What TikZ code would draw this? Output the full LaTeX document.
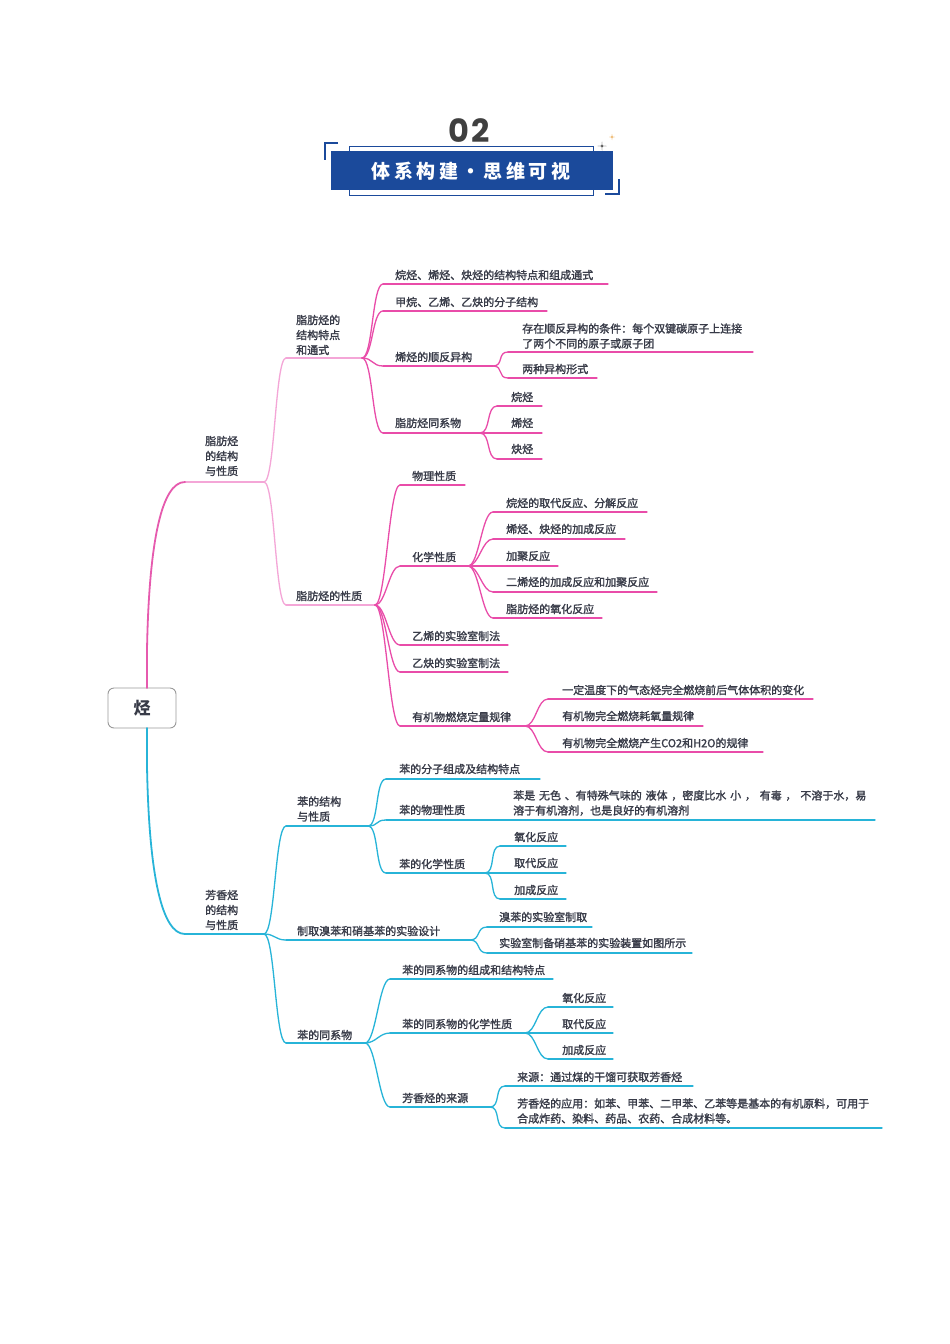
\documentclass[tikz,border=0pt]{standalone}
\usepackage{fontspec}
\newfontfamily\cjk{Noto Sans CJK SC}[FakeBold=1.6]
\newfontfamily\cjkR{Noto Sans CJK SC}
\newfontfamily\cjkH{Noto Sans CJK SC}[LetterSpace=18]
\newfontfamily\popp{Poppins}
\setmainfont{Liberation Sans}
\usetikzlibrary{calc}
\definecolor{pkA}{HTML}{E65AAE}
\definecolor{pkB}{HTML}{F4A6D7}
\definecolor{pkC}{HTML}{E94CA9}
\definecolor{cyA}{HTML}{27B4D8}
\definecolor{txt}{HTML}{383B48}
\definecolor{navy}{HTML}{1B4A9B}
\definecolor{gold}{HTML}{E8A040}
\tikzset{
  lbl/.style={font=\cjk\fontsize{11}{15}\selectfont, text=txt, inner sep=0pt, anchor=west, align=left},
  ln/.style={line width=1.3pt, line cap=round},
  pA/.style={ln, pkA, line width=1.8pt},
  pB/.style={ln, pkB},
  pC/.style={ln, pkC},
  cA/.style={ln, cyA, line width=1.8pt},
  cB/.style={ln, cyA},
  rootbox/.style={draw=black!40, line width=0.9pt, rounded corners=6pt, minimum width=68pt, minimum height=40pt, fill=white, inner sep=0pt, font=\cjkR\bfseries\fontsize{17}{17}\selectfont, text=txt},
}
% \mm{name}{style}{textx}{texty}{x1}{liney}{x2}{text}
\newcommand\mm[8]{%
  \coordinate (#1-s) at (#5,#6);
  \coordinate (#1-e) at (#7,#6);
  \draw[#2] (#1-s) -- (#1-e);
  \node[lbl] (#1) at (#3,#4) {#8};
}
\newcommand\lk[3]{\draw[#1] (#2) .. controls +(11,0) and +(-11,0) .. (#3);}
\newcommand\spark[4]{\fill[#4] (#1,#2-#3) .. controls (#1,#2) .. (#1+#3,#2) .. controls (#1,#2) .. (#1,#2+#3) .. controls (#1,#2) .. (#1-#3,#2) .. controls (#1,#2) .. cycle;}
\begin{document}
\begin{tikzpicture}[x=1pt,y=-1pt]
\useasboundingbox (0,0) rectangle (950,1344);
\fill[white] (0,0) rectangle (950,1344);
% ---------------- header
\node[font=\popp\bfseries\fontsize{32}{32}\selectfont, text=black!75, inner sep=0pt] (num) at (469,131) {0\kern2pt 2};
\draw[navy, line width=1pt] (349,146) rectangle (593,195);
\fill[navy] (331,151) rectangle (613,190);
\node[font=\cjkH\bfseries\fontsize{19}{19}\selectfont, text=white, inner sep=0pt] (title) at (471,171) {体系构建·思维可视};
\draw[navy, line width=1.2pt] (338,143) -- (325,143) -- (325,160);
\draw[navy, line width=1.2pt] (605,194) -- (619,194) -- (619,179);
\spark{602}{146}{4.5}{black!80}
\spark{612}{137}{3}{gold}
% ---------------- root
\node[rootbox] (root) at (142,708) {烃};
\coordinate (rootT) at (147,688);
\coordinate (rootB) at (147,728);
% ---------------- pink level 1
\mm{P0}{pB}{205}{456}{185}{482}{264}{脂肪烃\\的结构\\与性质}
\draw[pA] (rootT) -- (147,650) .. controls (149,540) and (162,482) .. (P0-s);
% level 2
\mm{P1}{pB}{296}{335}{286}{358}{362}{脂肪烃的\\结构特点\\和通式}
\mm{P2}{pB}{296}{596}{286}{605}{375}{脂肪烃的性质}
\lk{pB}{P0-e}{P1-s}
\lk{pB}{P0-e}{P2-s}
% level 3 under P1
\mm{a1}{pC}{395}{275}{383}{284}{608}{烷烃、烯烃、炔烃的结构特点和组成通式}
\mm{a2}{pC}{395}{302}{383}{311}{547}{甲烷、乙烯、乙炔的分子结构}
\mm{a3}{pC}{395}{357}{383}{366}{493}{烯烃的顺反异构}
\mm{a4}{pC}{395}{423}{383}{433}{480}{脂肪烃同系物}
\foreach \c in {a1,a2,a3,a4} {\lk{pC}{P1-e}{\c-s}}
\mm{a31}{pC}{522}{336}{508}{352}{753}{存在顺反异构的条件：每个双键碳原子上连接\\了两个不同的原子或原子团}
\mm{a32}{pC}{522}{369}{508}{378}{597}{两种异构形式}
\lk{pC}{a3-e}{a31-s}
\lk{pC}{a3-e}{a32-s}
\mm{a41}{pC}{511}{397}{497}{406}{542}{烷烃}
\mm{a42}{pC}{511}{423}{497}{433}{542}{烯烃}
\mm{a43}{pC}{511}{449}{497}{459}{542}{炔烃}
\foreach \c in {a41,a42,a43} {\lk{pC}{a4-e}{\c-s}}
% level 3 under P2
\mm{b1}{pC}{412}{476}{400}{485}{465}{物理性质}
\mm{b2}{pC}{412}{557}{400}{566}{468}{化学性质}
\mm{b3}{pC}{412}{636}{400}{645}{508}{乙烯的实验室制法}
\mm{b4}{pC}{412}{663}{400}{672}{508}{乙炔的实验室制法}
\mm{b5}{pC}{412}{717}{400}{726}{525}{有机物燃烧定量规律}
\foreach \c in {b1,b2,b3,b4,b5} {\lk{pC}{P2-e}{\c-s}}
\mm{b21}{pC}{506}{503}{493}{512}{647}{烷烃的取代反应、分解反应}
\mm{b22}{pC}{506}{529}{493}{539}{625}{烯烃、炔烃的加成反应}
\mm{b23}{pC}{506}{556}{493}{566}{558}{加聚反应}
\mm{b24}{pC}{506}{582}{493}{592}{657}{二烯烃的加成反应和加聚反应}
\mm{b25}{pC}{506}{609}{493}{618}{602}{脂肪烃的氧化反应}
\foreach \c in {b21,b22,b23,b24,b25} {\lk{pC}{b2-e}{\c-s}}
\mm{b51}{pC}{562}{690}{548}{699}{813}{一定温度下的气态烃完全燃烧前后气体体积的变化}
\mm{b52}{pC}{562}{716}{548}{726}{703}{有机物完全燃烧耗氧量规律}
\mm{b53}{pC}{562}{743}{548}{752}{763}{有机物完全燃烧产生CO2和H2O的规律}
\foreach \c in {b51,b52,b53} {\lk{pC}{b5-e}{\c-s}}
% ---------------- cyan level 1
\mm{C0}{cB}{205}{910}{185}{934}{264}{芳香烃\\的结构\\与性质}
\draw[cA] (rootB) -- (147,766) .. controls (149,876) and (162,934) .. (C0-s);
\mm{C1}{cB}{297}{809}{286}{826}{368}{苯的结构\\与性质}
\mm{C2}{cB}{297}{931}{286}{940}{470}{制取溴苯和硝基苯的实验设计}
\mm{C3}{cB}{297}{1035}{286}{1043}{365}{苯的同系物}
\foreach \c in {C1,C2,C3} {\lk{cB}{C0-e}{\c-s}}
% under C1
\mm{c11}{cB}{399}{769}{386}{779}{540}{苯的分子组成及结构特点}
\mm{c12}{cB}{399}{810}{386}{820}{500}{苯的物理性质}
\mm{c13}{cB}{399}{864}{386}{873}{485}{苯的化学性质}
\foreach \c in {c11,c12,c13} {\lk{cB}{C1-e}{\c-s}}
\mm{c121}{cB}{513}{803}{505}{820}{875}{\spaceskip=3.8pt\relax 苯是 无色 、有特殊气味的 液体 ，密度比水 小 ， 有毒 ， 不溶于水，易\\溶于有机溶剂，也是良好的有机溶剂}
\lk{cB}{c12-e}{c121-s}
\mm{c131}{cB}{514}{837}{500}{846}{566}{氧化反应}
\mm{c132}{cB}{514}{863}{500}{873}{566}{取代反应}
\mm{c133}{cB}{514}{890}{500}{899}{566}{加成反应}
\foreach \c in {c131,c132,c133} {\lk{cB}{c13-e}{\c-s}}
% under C2
\mm{c21}{cB}{499}{917}{487}{927}{592}{溴苯的实验室制取}
\mm{c22}{cB}{499}{943}{487}{953}{692}{实验室制备硝基苯的实验装置如图所示}
\foreach \c in {c21,c22} {\lk{cB}{C2-e}{\c-s}}
% under C3
\mm{c31}{cB}{402}{970}{390}{979}{553}{苯的同系物的组成和结构特点}
\mm{c32}{cB}{402}{1024}{390}{1033}{525}{苯的同系物的化学性质}
\mm{c33}{cB}{402}{1098}{390}{1107}{490}{芳香烃的来源}
\foreach \c in {c31,c32,c33} {\lk{cB}{C3-e}{\c-s}}
\mm{c321}{cB}{562}{998}{548}{1007}{613}{氧化反应}
\mm{c322}{cB}{562}{1024}{548}{1033}{613}{取代反应}
\mm{c323}{cB}{562}{1050}{548}{1059}{613}{加成反应}
\foreach \c in {c321,c322,c323} {\lk{cB}{c32-e}{\c-s}}
\mm{c331}{cB}{517}{1077}{505}{1086}{693}{来源：通过煤的干馏可获取芳香烃}
\mm{c332}{cB}{517}{1111}{505}{1128}{882}{芳香烃的应用：如苯、甲苯、二甲苯、乙苯等是基本的有机原料，可用于\\合成炸药、染料、药品、农药、合成材料等。}
\foreach \c in {c331,c332} {\lk{cB}{c33-e}{\c-s}}
\end{tikzpicture}
\end{document}
